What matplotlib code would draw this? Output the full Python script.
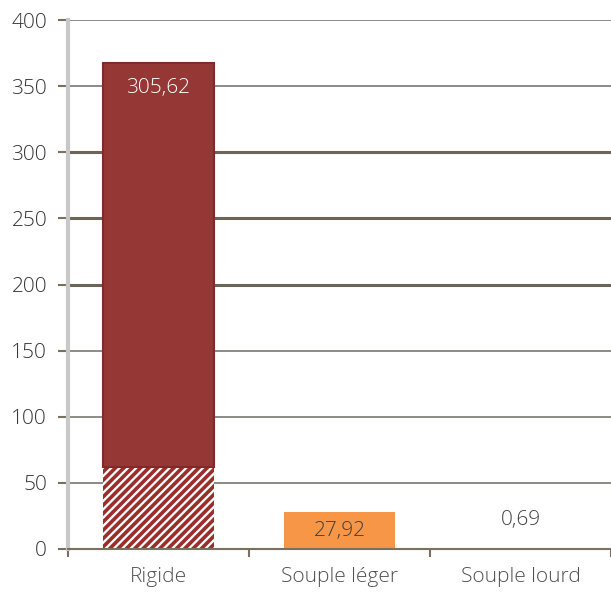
import matplotlib
matplotlib.use("Agg")
import matplotlib.pyplot as plt

categories = ["Rigide", "Souple léger", "Souple lourd"]
base_values = [62.0, 0.0, 0.0]          # hatched lower segment
main_values = [305.62, 27.92, 0.69]     # labelled segment
labels = ["305,62", "27,92", "0,69"]
yticks = [0, 50, 100, 150, 200, 250, 300, 350, 400]

plt.rcParams['font.family'] = ['Open Sans', 'DejaVu Sans']
plt.rcParams['hatch.linewidth'] = 2.6

FS = 15
fig = plt.figure(figsize=(6.11, 5.95), dpi=100)
ax = fig.add_axes([68/611, 1-549/595, 1-68/611, (549-20)/595])

x = list(range(len(categories)))
main_colors = ["#953735", "#F79646", "#F79646"]
edge_colors = ["#7e2b29", "#F79646", "#F79646"]
edge_widths = [1.5, 0, 0]

ax.bar(x, base_values, width=0.61, color="white", edgecolor="#9b2d2b",
       hatch="////", linewidth=0, zorder=3)
bars = ax.bar(x, main_values, width=0.61, bottom=base_values, color=main_colors,
              edgecolor=edge_colors, linewidth=edge_widths, zorder=3)

# labels
for i, (b, v, lab) in enumerate(zip(base_values, main_values, labels)):
    top = b + v
    if i == 0:
        ax.annotate(lab, (i, top), xytext=(0, -18), textcoords="offset points",
                    ha="center", va="center", color="white", fontsize=FS,
                    fontweight="light", zorder=5)
    elif i == 1:
        ax.text(i, b + v / 2, lab, ha="center", va="center", color="#404040",
                fontsize=FS, fontweight="light", zorder=5)
    else:
        ax.annotate(lab, (i, top), xytext=(0, 20), textcoords="offset points",
                    ha="center", va="center", color="#404040", fontsize=FS,
                    fontweight="light", zorder=5)

ax.set_xlim(-0.5, 2.5)
ax.set_ylim(0, 400)
ax.set_yticks(yticks)
ax.set_yticklabels([str(t) for t in yticks], fontsize=FS, color="#353535",
                   fontweight="light")
ax.tick_params(axis="y", length=7, width=1.5, color="#7a7060", pad=8)

ax.set_xticks(x)
ax.set_xticklabels(categories, fontsize=FS, color="#505050", fontweight="light")
ax.tick_params(axis="x", which="major", length=0, pad=13)
ax.set_xticks([-0.5, 0.5, 1.5, 2.5], minor=True)
ax.tick_params(axis="x", which="minor", length=6, width=1.5, color="#7a7060")

ax.grid(axis="y", zorder=0)
for t, gl in zip(yticks, ax.get_ygridlines()):
    if t in (200, 250, 300):
        gl.set_color("#6b6558")
        gl.set_linewidth(2.2)
    else:
        gl.set_color("#8a8a86")
        gl.set_linewidth(1.4)
ax.set_axisbelow(True)

for s in ["top", "right"]:
    ax.spines[s].set_visible(False)
ax.spines["left"].set_color("#c8c8c8")
ax.spines["left"].set_linewidth(3)
ax.spines["bottom"].set_color("#7a7060")
ax.spines["bottom"].set_linewidth(1.5)
ax.spines["bottom"].set_zorder(4)

fig.savefig("out.png", dpi=100)
